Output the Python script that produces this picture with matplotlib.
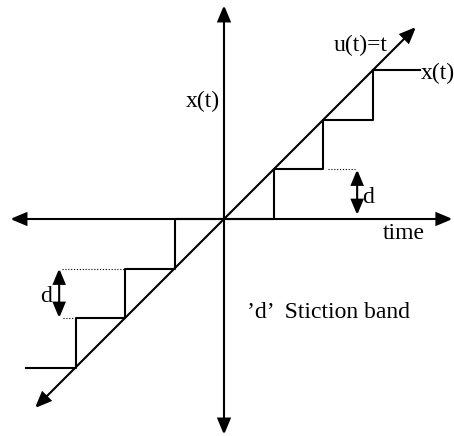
import matplotlib
matplotlib.use("Agg")
import matplotlib.pyplot as plt
from matplotlib.patches import FancyArrowPatch

# ---- data (units of the stiction band d = 1) ----
t_steps = [-4, -3, -2, -1, 0, 1, 2, 3, 3.95]
x_steps = [-3, -2, -1, 0, 0, 1, 2, 3, 3]
u_line_t = [-3.82, 3.88]
d_band = 1.0

# ---- figure ----
W, H, DPI = 4.54, 4.36, 100
fig = plt.figure(figsize=(W, H), dpi=DPI)
ax = fig.add_axes([0, 0, 1, 1])
s = 49.5  # px per unit
ox, oy = 224, 219
ax.set_xlim(-ox / s, (454 - ox) / s)
ax.set_ylim(-(436 - oy) / s, oy / s)
ax.axis("off")

plt.rcParams["font.family"] = ["Liberation Serif", "DejaVu Serif"]
FS = 17
LW = 1.5


def arrow(p0, p1, style, ms=15, lw=LW):
    a = FancyArrowPatch(p0, p1, arrowstyle=style, mutation_scale=ms,
                        color="black", lw=lw, shrinkA=0, shrinkB=0,
                        joinstyle="miter", capstyle="butt")
    ax.add_patch(a)

head = "head_length=0.65,head_width=0.27"
# axes
arrow((-4.32, 0), (4.62, 0), "<|-|>," + head)
arrow((0, -4.36), (0, 4.32), "<|-|>," + head)
# u(t)=t diagonal
arrow((u_line_t[0], u_line_t[0]), (u_line_t[1], u_line_t[1]), "<|-|>," + head)

# x(t) staircase
ax.step(t_steps, x_steps, where="post", color="black", lw=LW)

# dotted guides
dot = dict(color="black", lw=0.8, linestyle=(0, (1, 1.6)))
ax.plot([2.10, 2.65], [d_band, d_band], **dot)
ax.plot([-3.27, -2.0], [-d_band, -d_band], **dot)
ax.plot([-3.25, -3.0], [-2 * d_band, -2 * d_band], **dot)

# d arrows
arrow((2.69, 0.08), (2.69, d_band), "<|-|>," + head, ms=14)
arrow((-3.33, -2 * d_band), (-3.33, -d_band), "<|-|>," + head, ms=14)

# labels
kw = dict(fontsize=FS, va="baseline")
ax.text(-0.08, 2.26, "x(t)", ha="right", **kw)
ax.text(2.75, 3.39, "u(t)=t", ha="center", **kw)
ax.text(3.98, 2.83, "x(t)", ha="left", **kw)
ax.text(3.63, -0.40, "time", ha="center", **kw)
ax.text(0.47, -2.0, "\u2019d\u2019  Stiction band", ha="left", **kw)
ax.text(2.79, 0.32, "d", ha="left", **kw)
ax.text(-3.72, -1.68, "d", ha="left", **kw)

fig.savefig("out.png", dpi=DPI)
